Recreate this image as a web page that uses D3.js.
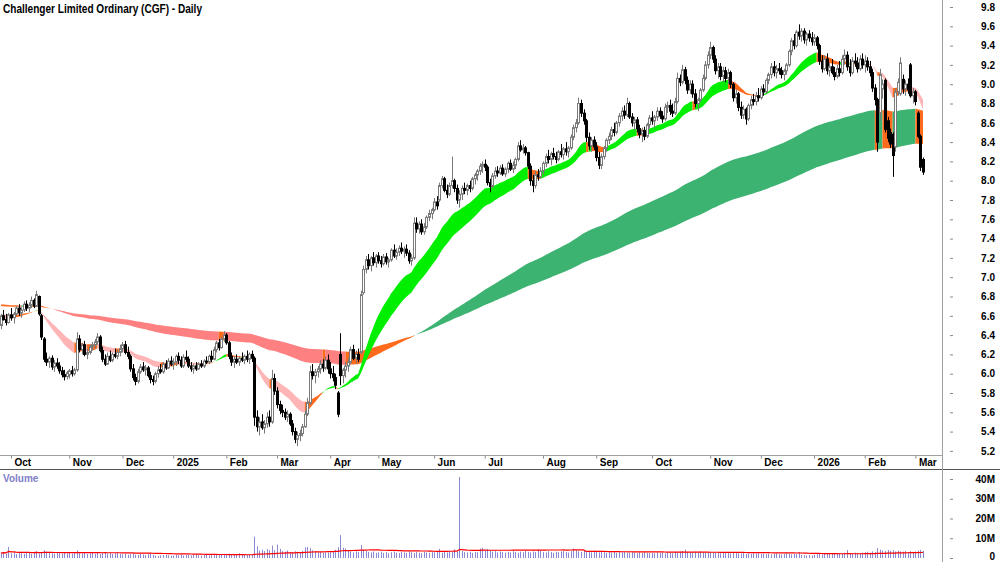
<!DOCTYPE html>
<html>
<head>
<meta charset="utf-8">
<script src="https://cdn.jsdelivr.net/npm/d3@7"></script>
<style>
  body { margin: 0; background: #fff; }
  svg { display: block; font-family: "Liberation Sans", Arial, sans-serif; }
</style>
</head>
<body>
<div id="chart"></div>
<script>
// ---- data ----
const title = "Challenger Limited Ordinary (CGF) - Daily";
const firstDay = "2024-09-25", lastDay = "2026-03-05";
const holidays = ["2024-12-25", "2024-12-26", "2025-01-01", "2025-01-27", "2025-04-18", "2025-04-21",
    "2025-04-25", "2025-06-09", "2025-12-25", "2025-12-26", "2026-01-01", "2026-01-26"];
const monthLabels = ["Oct", "Nov", "Dec", "2025", "Feb", "Mar", "Apr", "May", "Jun", "Jul", "Aug", "Sep",
    "Oct", "Nov", "Dec", "2026", "Feb", "Mar"];
const priceTicks = [5.2, 5.4, 5.6, 5.8, 6.0, 6.2, 6.4, 6.6, 6.8, 7.0, 7.2, 7.4, 7.6, 7.8, 8.0, 8.2, 8.4, 8.6,
    8.8, 9.0, 9.2, 9.4, 9.6, 9.8];
const volumeTicks = [0, 10, 20, 30, 40];   // millions

// daily candles: [open, high, low, close]
const sep24 = [[6.50,6.62,6.46,6.60],[6.60,6.66,6.55,6.56],[6.56,6.62,6.50,6.53],[6.53,6.63,6.52,6.61]];
const oct24 = [[6.61,6.68,6.55,6.58],[6.58,6.64,6.52,6.62],[6.62,6.70,6.60,6.68],[6.68,6.72,6.60,6.63],
    [6.63,6.69,6.58,6.66],[6.66,6.75,6.64,6.72],[6.72,6.76,6.65,6.68],[6.68,6.74,6.64,6.71],
    [6.71,6.80,6.68,6.76],[6.76,6.78,6.68,6.70],[6.70,6.86,6.69,6.82],[6.80,6.81,6.60,6.62],
    [6.60,6.62,6.35,6.38],[6.36,6.38,6.12,6.15],[6.15,6.22,6.08,6.12],[6.12,6.18,6.06,6.16],
    [6.16,6.19,6.04,6.07],[6.07,6.14,6.02,6.11],[6.11,6.16,6.05,6.08],[6.08,6.12,6.00,6.03],
    [6.03,6.07,5.96,5.99],[5.99,6.04,5.93,5.97],[5.97,6.03,5.94,6.01]];
const nov24 = [[5.99,6.05,5.95,6.03],[6.03,6.08,5.97,6.00],[6.00,6.06,5.98,6.04],[6.04,6.43,6.02,6.36],
    [6.36,6.40,6.22,6.25],[6.25,6.32,6.20,6.30],[6.30,6.34,6.18,6.20],[6.20,6.26,6.15,6.22],
    [6.22,6.30,6.20,6.28],[6.28,6.33,6.24,6.30],[6.30,6.36,6.26,6.33],[6.33,6.42,6.30,6.38],
    [6.38,6.40,6.22,6.24],[6.24,6.28,6.12,6.15],[6.15,6.20,6.08,6.10],[6.10,6.22,6.09,6.18],
    [6.18,6.24,6.12,6.14],[6.14,6.22,6.12,6.20],[6.20,6.26,6.16,6.18],[6.18,6.25,6.15,6.22],
    [6.22,6.30,6.18,6.26]];
const dec24 = [[6.26,6.33,6.22,6.30],[6.30,6.34,6.20,6.22],[6.22,6.28,6.15,6.18],[6.18,6.20,6.02,6.05],
    [6.05,6.10,5.93,5.96],[5.96,6.00,5.88,5.92],[5.92,6.05,5.90,6.02],[6.02,6.10,6.00,6.07],
    [6.07,6.12,6.02,6.04],[6.04,6.09,5.98,6.06],[6.06,6.08,5.96,5.98],[5.98,6.02,5.90,5.94],
    [5.94,5.98,5.88,5.92],[5.92,6.02,5.90,6.00],[6.00,6.08,5.96,6.04],[6.04,6.10,6.00,6.02],
    [6.02,6.12,6.00,6.10],[6.10,6.14,6.04,6.06],[6.06,6.16,6.05,6.13],[6.13,6.18,6.08,6.10]];
const jan25 = [[6.10,6.16,6.04,6.12],[6.12,6.20,6.08,6.18],[6.18,6.22,6.10,6.14],[6.14,6.18,6.06,6.08],
    [6.08,6.20,6.06,6.17],[6.17,6.24,6.12,6.15],[6.15,6.18,6.06,6.08],[6.08,6.12,6.02,6.05],
    [6.05,6.10,6.00,6.08],[6.08,6.12,6.03,6.05],[6.05,6.12,6.04,6.10],[6.10,6.14,6.06,6.08],
    [6.08,6.15,6.06,6.13],[6.13,6.18,6.10,6.12],[6.12,6.20,6.10,6.18],[6.18,6.24,6.12,6.15],
    [6.15,6.28,6.14,6.25],[6.25,6.34,6.22,6.32],[6.32,6.36,6.24,6.27],[6.27,6.38,6.26,6.36],
    [6.36,6.44,6.33,6.40]];
const feb25 = [[6.40,6.42,6.30,6.32],[6.32,6.34,6.15,6.18],[6.18,6.22,6.08,6.12],[6.12,6.18,6.06,6.15],
    [6.15,6.20,6.10,6.12],[6.12,6.18,6.08,6.16],[6.16,6.22,6.12,6.14],[6.14,6.20,6.10,6.18],
    [6.18,6.24,6.12,6.15],[6.15,6.22,6.10,6.20],[6.20,6.24,6.12,6.16],[6.16,6.18,5.46,5.55],
    [5.55,5.62,5.40,5.45],[5.45,5.55,5.36,5.50],[5.50,5.58,5.42,5.44],[5.44,5.52,5.38,5.48],
    [5.48,5.60,5.44,5.55],[5.55,5.62,5.45,5.50],[5.50,6.04,5.48,5.95],[5.95,6.00,5.78,5.82]];
const mar25 = [[5.82,5.86,5.64,5.68],[5.68,5.72,5.58,5.62],[5.62,5.68,5.55,5.60],[5.60,5.64,5.52,5.55],
    [5.55,5.62,5.50,5.58],[5.58,5.60,5.46,5.48],[5.48,5.52,5.36,5.40],[5.40,5.44,5.28,5.32],
    [5.32,5.40,5.25,5.36],[5.36,5.42,5.30,5.38],[5.38,5.48,5.35,5.45],[5.45,5.62,5.44,5.58],
    [5.58,5.75,5.56,5.70],[5.70,6.08,5.68,6.02],[6.02,6.10,5.94,5.98],[5.98,6.05,5.90,6.02],
    [6.02,6.08,5.96,6.05],[6.05,6.14,6.00,6.10],[6.10,6.15,6.02,6.06],[6.06,6.18,6.04,6.14],
    [6.14,6.20,6.00,6.05]];
const apr25 = [[6.05,6.12,5.95,6.00],[6.00,6.08,5.92,5.96],[5.96,6.00,5.84,5.88],[5.80,5.82,5.55,5.58],
    [6.20,6.42,5.88,5.98],[5.98,6.06,5.90,6.04],[6.04,6.12,5.96,6.08],[6.08,6.16,6.02,6.12],
    [6.12,6.28,6.10,6.25],[6.25,6.30,6.14,6.16],[6.16,6.24,6.10,6.20],[6.20,6.26,6.12,6.15],
    [6.22,6.86,6.20,6.82],[6.84,7.12,6.82,7.08],[7.08,7.22,7.04,7.18],[7.18,7.24,7.08,7.12],
    [7.12,7.22,7.06,7.20],[7.20,7.26,7.12,7.15],[7.15,7.24,7.10,7.22]];
const may25 = [[7.22,7.26,7.14,7.17],[7.17,7.22,7.10,7.14],[7.14,7.24,7.12,7.21],[7.21,7.25,7.13,7.16],
    [7.16,7.20,7.10,7.18],[7.18,7.30,7.16,7.28],[7.28,7.34,7.20,7.22],[7.22,7.30,7.18,7.26],
    [7.26,7.33,7.22,7.30],[7.30,7.36,7.24,7.27],[7.27,7.32,7.20,7.29],[7.29,7.34,7.22,7.25],
    [7.25,7.28,7.14,7.17],[7.17,7.24,7.12,7.20],[7.20,7.62,7.18,7.56],[7.56,7.62,7.46,7.50],
    [7.50,7.58,7.45,7.55],[7.55,7.60,7.44,7.47],[7.47,7.56,7.44,7.52],[7.52,7.64,7.50,7.62],
    [7.62,7.70,7.58,7.66],[7.66,7.72,7.60,7.70]];
const jun25 = [[7.70,7.82,7.68,7.78],[7.78,7.84,7.70,7.74],[7.80,7.98,7.78,7.95],[7.95,8.05,7.92,8.02],
    [8.02,8.04,7.88,7.90],[7.90,7.96,7.82,7.86],[7.86,7.98,7.84,7.95],[7.95,8.25,7.92,8.00],
    [8.00,8.02,7.88,7.92],[7.92,7.96,7.76,7.80],[7.80,7.90,7.72,7.86],[7.86,7.95,7.80,7.92],
    [7.92,7.98,7.86,7.90],[7.90,7.97,7.85,7.95],[7.95,8.00,7.88,7.92],[7.92,8.04,7.90,8.02],
    [8.02,8.08,7.96,8.06],[8.06,8.12,8.00,8.10],[8.10,8.18,8.06,8.15],[8.15,8.20,8.08,8.17]];
const jul25 = [[8.17,8.22,8.10,8.14],[8.14,8.16,7.95,7.98],[7.98,8.02,7.88,7.94],[7.94,8.08,7.92,8.05],
    [8.05,8.14,8.02,8.10],[8.10,8.15,8.04,8.08],[8.08,8.16,8.06,8.13],[8.13,8.17,8.05,8.07],
    [8.07,8.14,8.04,8.12],[8.12,8.20,8.08,8.18],[8.18,8.22,8.10,8.12],[8.12,8.20,8.08,8.16],
    [8.16,8.24,8.12,8.22],[8.22,8.40,8.20,8.36],[8.36,8.42,8.30,8.32],[8.32,8.38,8.28,8.34],
    [8.34,8.36,8.26,8.29],[8.29,8.30,8.12,8.15],[8.15,8.18,7.95,8.00],[8.00,8.06,7.88,7.95],
    [7.95,8.10,7.92,8.06],[8.06,8.12,8.00,8.04],[8.04,8.14,8.02,8.10]];
const aug25 = [[8.10,8.20,8.06,8.18],[8.18,8.28,8.14,8.25],[8.25,8.32,8.18,8.22],[8.22,8.30,8.16,8.28],
    [8.28,8.34,8.22,8.25],[8.25,8.30,8.18,8.22],[8.22,8.32,8.20,8.30],[8.30,8.38,8.24,8.27],
    [8.27,8.35,8.22,8.33],[8.33,8.40,8.26,8.30],[8.30,8.36,8.24,8.34],[8.34,8.48,8.32,8.45],
    [8.45,8.58,8.42,8.55],[8.55,8.64,8.50,8.60],[8.60,8.86,8.58,8.80],[8.80,8.84,8.66,8.70],
    [8.70,8.74,8.58,8.62],[8.62,8.64,8.40,8.45],[8.45,8.50,8.32,8.36],[8.36,8.45,8.30,8.42],
    [8.42,8.46,8.32,8.35]];
const sep25 = [[8.35,8.40,8.20,8.24],[8.24,8.30,8.12,8.16],[8.16,8.28,8.12,8.25],[8.25,8.36,8.22,8.34],
    [8.34,8.44,8.30,8.42],[8.42,8.50,8.38,8.46],[8.46,8.56,8.42,8.53],[8.53,8.60,8.46,8.50],
    [8.50,8.62,8.48,8.60],[8.60,8.70,8.56,8.67],[8.67,8.76,8.62,8.72],[8.72,8.78,8.64,8.68],
    [8.68,8.86,8.66,8.80],[8.80,8.82,8.64,8.66],[8.66,8.70,8.56,8.60],[8.60,8.66,8.52,8.63],
    [8.63,8.66,8.50,8.54],[8.54,8.58,8.44,8.48],[8.48,8.55,8.40,8.52],[8.52,8.56,8.42,8.46],
    [8.46,8.60,8.44,8.58],[8.58,8.68,8.54,8.65]];
const oct25 = [[8.65,8.72,8.58,8.62],[8.62,8.68,8.55,8.66],[8.66,8.76,8.62,8.72],[8.72,8.76,8.64,8.67],
    [8.67,8.72,8.60,8.64],[8.64,8.80,8.62,8.76],[8.76,8.82,8.70,8.78],[8.78,8.84,8.68,8.72],
    [8.72,8.80,8.66,8.70],[8.70,8.86,8.68,8.82],[8.82,9.12,8.80,9.06],[9.06,9.10,8.98,9.02],
    [9.02,9.20,9.00,9.15],[9.15,9.18,9.00,9.04],[9.04,9.08,8.90,8.94],[8.94,9.04,8.90,9.00],
    [9.00,9.04,8.86,8.90],[8.90,8.95,8.76,8.80],[8.80,8.86,8.72,8.84],[8.84,8.96,8.82,8.94],
    [8.94,9.10,8.92,9.06],[9.06,9.24,9.04,9.20],[9.20,9.34,9.16,9.30]];
const nov25 = [[9.30,9.44,9.26,9.38],[9.38,9.40,9.22,9.26],[9.26,9.30,9.10,9.14],[9.14,9.22,9.06,9.18],
    [9.18,9.22,9.04,9.08],[9.08,9.18,9.02,9.14],[9.14,9.18,9.02,9.06],[9.06,9.16,9.00,9.12],
    [9.12,9.14,8.96,9.00],[9.00,9.02,8.82,8.86],[8.86,8.94,8.80,8.90],[8.90,8.92,8.72,8.76],
    [8.76,8.82,8.64,8.68],[8.68,8.78,8.64,8.74],[8.74,8.76,8.58,8.64],[8.64,8.80,8.62,8.78],
    [8.78,8.88,8.74,8.84],[8.84,8.90,8.78,8.82],[8.82,8.92,8.78,8.88],[8.88,8.96,8.82,8.86]];
const dec25 = [[8.86,8.98,8.84,8.95],[8.95,9.00,8.88,8.92],[8.92,9.06,8.90,9.04],[9.04,9.12,9.00,9.10],
    [9.10,9.22,9.06,9.18],[9.18,9.24,9.08,9.12],[9.12,9.20,9.06,9.16],[9.16,9.22,9.10,9.14],
    [9.14,9.18,9.06,9.10],[9.10,9.16,9.04,9.14],[9.14,9.22,9.10,9.20],[9.20,9.36,9.18,9.34],
    [9.34,9.48,9.30,9.45],[9.45,9.52,9.36,9.40],[9.40,9.56,9.38,9.54],[9.54,9.62,9.46,9.50],
    [9.50,9.58,9.44,9.55],[9.55,9.58,9.42,9.46],[9.46,9.54,9.40,9.52],[9.52,9.56,9.44,9.48],
    [9.48,9.54,9.40,9.44]];
const jan26 = [[9.44,9.52,9.40,9.48],[9.48,9.50,9.36,9.40],[9.40,9.42,9.20,9.24],[9.24,9.30,9.12,9.16],
    [9.16,9.30,9.14,9.26],[9.26,9.32,9.10,9.14],[9.14,9.22,9.08,9.18],[9.18,9.26,9.10,9.12],
    [9.12,9.18,9.04,9.08],[9.08,9.20,9.06,9.16],[9.16,9.24,9.08,9.12],[9.12,9.30,9.10,9.26],
    [9.26,9.36,9.20,9.30],[9.30,9.34,9.14,9.18],[9.18,9.26,9.08,9.12],[9.12,9.28,9.10,9.24],
    [9.24,9.32,9.18,9.22],[9.22,9.28,9.12,9.16],[9.16,9.30,9.14,9.26],[9.26,9.32,9.16,9.20]];
const feb26 = [[9.20,9.30,9.12,9.24],[9.24,9.28,9.14,9.18],[9.18,9.24,9.08,9.12],[9.12,9.16,8.92,8.96],
    [8.96,9.00,8.78,8.84],[8.84,8.86,8.30,8.40],[8.70,9.16,8.62,9.10],[8.95,9.05,8.85,9.00],
    [9.04,9.06,8.50,8.53],[8.62,8.66,8.40,8.44],[8.50,8.54,8.34,8.38],[8.48,8.50,8.04,8.26],
    [8.35,8.96,8.30,8.92],[8.92,9.06,8.88,9.02],[8.90,9.28,8.88,9.22],[9.05,9.10,8.90,8.95],
    [8.95,9.04,8.88,9.00],[9.00,9.06,8.90,8.94],[9.20,9.22,8.86,8.88],[8.88,8.96,8.80,8.92]];
const mar26 = [[8.92,8.94,8.78,8.82],[8.70,8.72,8.44,8.46],[8.46,8.48,8.10,8.14],[8.22,8.24,8.06,8.09]];

// daily volume, millions
const volSep24 = [2.5, 3.0, 2.2, 5.6];
const volOct24 = [2.4,2.8,2.0,2.6,3.1,2.2,2.5,2.9,2.1,2.7,3.4,2.3,2.6,3.9,3.2,2.8,2.4,2.2,2.9,2.5,2.1,2.6,2.3];
const volNov24 = [2.7,2.2,2.5,3.8,2.6,2.3,2.9,2.1,2.4,2.8,2.2,2.6,2.0,2.5,3.0,2.3,2.7,2.1,2.4,2.9,2.2];
const volDec24 = [1.8,2.2,1.6,1.9,2.4,1.7,1.5,2.0,1.8,1.4,1.9,2.3,1.6,1.2,1.0,1.3,1.5,1.7,1.4,1.2];
const volJan25 = [1.3,1.6,1.4,1.8,1.2,1.5,1.7,1.3,1.6,1.9,1.4,1.2,1.5,1.8,1.3,1.6,1.4,1.7,1.5,1.9,2.1];
const volFeb25 = [1.8,2.2,1.6,1.9,1.5,2.4,1.7,2.0,1.6,1.8,1.5,10.8,5.9,3.8,4.2,3.5,4.5,3.9,6.3,4.0];
const volMar25 = [6.8,4.6,3.5,3.2,3.8,3.0,2.8,3.4,3.1,2.9,3.6,5.4,5.6,5.0,3.9,3.3,2.8,3.1,2.6,3.0,2.7];
const volApr25 = [2.9,3.2,4.1,5.5,11.6,5.2,4.8,3.6,3.2,2.9,3.4,3.0,6.6,4.2,3.5,3.1,2.8,3.3,2.6];
const volMay25 = [2.8,3.2,2.6,3.0,2.4,2.9,3.3,2.7,2.5,3.1,2.8,2.6,3.4,2.9,2.5,3.0,2.7,2.4,3.2,2.8,2.6,3.0];
const volJun25 = [2.9,3.3,4.6,2.7,3.1,2.8,3.6,3.0,4.4,3.2,41.0,3.5,3.0,2.8,3.2,2.6,3.1,2.9,4.8,5.2];
const volJul25 = [4.1,4.6,3.8,3.2,3.5,2.9,3.3,3.0,2.7,3.1,2.8,3.4,3.0,2.6,3.2,2.9,3.5,3.1,2.8,3.3,3.0,4.4,3.6];
const volAug25 = [3.1,2.8,3.4,3.0,2.6,3.2,2.9,3.3,3.6,3.0,2.8,3.5,4.7,3.9,3.4,3.1,3.6,3.0,3.3,2.9,3.8];
const volSep25 = [3.2,2.9,3.4,3.0,2.7,3.1,2.8,3.3,2.6,3.0,2.9,3.2,2.7,2.5,3.0,2.8,2.4,2.9,2.6,3.1,2.7,2.5];
const volOct25 = [2.6,2.4,2.8,2.5,2.9,2.3,2.7,2.6,2.4,3.0,2.8,3.3,3.6,4.2,3.1,2.9,2.7,3.2,2.8,3.4,3.0,2.6,2.9];
const volNov25 = [3.1,2.8,2.6,3.0,2.4,2.7,2.5,2.9,2.3,2.6,2.8,2.4,2.2,2.6,2.0,2.3,2.1,2.5,2.2,2.4];
const volDec25 = [2.0,2.3,1.9,2.2,1.8,2.1,2.4,1.9,1.7,2.0,2.6,2.2,1.8,2.1,1.9,2.8,1.6,1.4,1.2,1.5,1.3];
const volJan26 = [1.6,1.9,2.2,1.8,2.1,2.4,1.9,2.3,2.0,2.2,2.5,2.1,2.6,4.0,2.4,2.2,2.7,2.3,2.5,2.8];
const volFeb26 = [2.9,3.2,2.7,3.4,3.1,5.0,4.2,3.8,3.5,4.0,3.6,3.9,3.3,3.7,3.4,3.2,3.6,3.0,3.4,3.1];
const volMar26 = [3.3,3.8,4.1,3.6];

const shortPeriods = [21, 34], shortSeed = [6.57, 6.62];
const longPeriods = [144, 233], longSeed = [6.72, 6.70];
const volAvgPeriod = 50;
const shortColors = { bull: "#00ee00", bear: "#ffb5b5", mixed: "#ff6a1c" };
const longColors = { bull: "#3cb371", bear: "#ff8080", mixed: "#ff6a1c" };

// ---- build ----
const candles = [].concat(sep24, oct24, nov24, dec24, jan25, feb25, mar25, apr25, may25, jun25, jul25,
    aug25, sep25, oct25, nov25, dec25, jan26, feb26, mar26);
const volumes = [].concat(volSep24, volOct24, volNov24, volDec24, volJan25, volFeb25, volMar25, volApr25,
    volMay25, volJun25, volJul25, volAug25, volSep25, volOct25, volNov25, volDec25, volJan26, volFeb26, volMar26);

const fmtDay = d3.timeFormat("%Y-%m-%d");
const parseDay = d3.timeParse("%Y-%m-%d");
const dates = d3.timeDay.range(parseDay(firstDay), d3.timeDay.offset(parseDay(lastDay), 1))
    .filter(d => d.getDay() !== 0 && d.getDay() !== 6 && !holidays.includes(fmtDay(d)));
const n = Math.min(candles.length, volumes.length, dates.length);

// first trading day of each month -> tick
const monthStarts = [];
dates.slice(0, n).forEach((d, i) => {
    if (i > 0 && d.getMonth() !== dates[i - 1].getMonth()) monthStarts.push(i);
});

const W = 1000, H = 562;
const svg = d3.select("#chart").append("svg").attr("width", W).attr("height", H);

const x = d3.scaleLinear().domain([0, 364]).range([0.9, 923]);
const y = d3.scaleLinear().domain([5.2, 9.8]).range([450.9, 7]);
const yv = d3.scaleLinear().domain([0, 40]).range([558, 479]);
const px = i => Math.round(x(i));

// ---- moving-average ribbons ----
function ema(vals, period, seed) {
    const k = 2 / (period + 1);
    let e = seed;
    return vals.map(v => (e = e + k * (v - e)));
}
// bull: fast rising and above slow, bear: fast falling and below slow, else mixed
function ribbonStates(fast, slow, seedFast) {
    return fast.map((f, i) => {
        const up = f > (i ? fast[i - 1] : seedFast);
        if (up && f > slow[i]) return "bull";
        if (!up && f < slow[i]) return "bear";
        return "mixed";
    });
}
function drawRibbon(g, fast, slow, states, colors) {
    const area = d3.area().x(i => x(i)).y0(i => y(slow[i])).y1(i => y(fast[i]));
    let start = 0;
    for (let i = 1; i <= n; i++) {
        if (i === n || states[i] !== states[start]) {
            g.append("path")
                .attr("d", area(d3.range(Math.max(start - 1, 0), i)))
                .attr("fill", colors[states[start]]);
            start = i;
        }
    }
}

const closes = candles.slice(0, n).map(d => d[3]);
const sFast = ema(closes, shortPeriods[0], shortSeed[0]);
const sSlow = ema(closes, shortPeriods[1], shortSeed[1]);
const lFast = ema(closes, longPeriods[0], longSeed[0]);
const lSlow = ema(closes, longPeriods[1], longSeed[1]);

const ribbons = svg.append("g");
drawRibbon(ribbons, lFast, lSlow, ribbonStates(lFast, lSlow, longSeed[0]), longColors);
drawRibbon(ribbons, sFast, sSlow, ribbonStates(sFast, sSlow, shortSeed[0]), shortColors);

// ---- candles ----
const bars = candles.slice(0, n).map((d, i) => ({ i, o: d[0], h: d[1], l: d[2], c: d[3] }));
const cg = svg.append("g");
cg.selectAll("line.wick").data(bars).join("line")
    .attr("class", "wick")
    .attr("x1", d => px(d.i) + 0.5).attr("x2", d => px(d.i) + 0.5)
    .attr("y1", d => y(d.h)).attr("y2", d => y(d.l))
    .attr("stroke", d => d.c >= d.o ? "#7a7a7a" : "#000")
    .attr("stroke-width", 1);
cg.selectAll("rect.body").data(bars).join("rect")
    .attr("class", "body")
    .attr("x", d => px(d.i) - 0.5)
    .attr("width", 2)
    .attr("y", d => y(Math.max(d.o, d.c)))
    .attr("height", d => Math.max(Math.abs(y(d.o) - y(d.c)), 1))
    .attr("fill", d => d.c >= d.o ? "#fff" : "#000")
    .attr("stroke", d => d.c >= d.o ? "#7a7a7a" : "#000")
    .attr("stroke-width", 1);

// ---- frame ----
svg.append("line").attr("x1", 0).attr("x2", 942.5).attr("y1", 455.5).attr("y2", 455.5)
    .attr("stroke", "#a0a0a0");
svg.append("line").attr("x1", 0).attr("x2", W).attr("y1", 469.5).attr("y2", 469.5)
    .attr("stroke", "#555");
svg.append("line").attr("x1", 942.5).attr("x2", 942.5).attr("y1", 0).attr("y2", H)
    .attr("stroke", "#a0a0a0");

svg.append("text").attr("x", 3).attr("y", 13)
    .attr("font-size", 12.5).attr("font-weight", "bold")
    .attr("textLength", 199).attr("lengthAdjust", "spacingAndGlyphs")
    .text(title);

// ---- axes ----
const priceAxis = svg.append("g").attr("transform", "translate(950,0)")
    .call(d3.axisRight(y).tickValues(priceTicks).tickSize(3).tickFormat(d3.format(".1f")));
const volAxis = svg.append("g").attr("transform", "translate(950,0)")
    .call(d3.axisRight(yv).tickValues(volumeTicks).tickSize(3).tickFormat(d => d ? d + "M" : "0"));
[priceAxis, volAxis].forEach(g => {
    g.select(".domain").remove();
    g.selectAll(".tick line").attr("stroke", "#888");
    g.selectAll(".tick text").attr("x", 45).attr("text-anchor", "end")
        .attr("font-size", 10).attr("font-weight", "bold").attr("fill", "#000");
});
volAxis.selectAll(".tick text").filter(d => d === 0).attr("dy", "0.1em");

const dateAxis = svg.append("g").attr("transform", "translate(0,455.5)")
    .call(d3.axisBottom(x).tickValues(monthStarts).tickSize(3)
        .tickFormat((d, k) => monthLabels[k] || ""));
dateAxis.select(".domain").remove();
dateAxis.selectAll(".tick line").attr("stroke", "#888");
dateAxis.selectAll(".tick text").attr("text-anchor", "start").attr("x", 3).attr("y", 3).attr("dy", "0.71em")
    .attr("font-size", 10).attr("font-weight", "bold").attr("fill", "#000");

// ---- volume ----
const vg = svg.append("g");
vg.selectAll("line.vol").data(volumes.slice(0, n)).join("line")
    .attr("class", "vol")
    .attr("x1", (d, i) => px(i) + 0.5).attr("x2", (d, i) => px(i) + 0.5)
    .attr("y1", yv(0)).attr("y2", d => yv(d))
    .attr("stroke", "#8a8ad2").attr("stroke-width", 1);

const volAvg = volumes.slice(0, n)
    .map((v, i) => d3.mean(volumes.slice(Math.max(0, i - volAvgPeriod + 1), i + 1)));
vg.append("path")
    .attr("d", d3.line().x((d, i) => x(i)).y(d => yv(d))(volAvg))
    .attr("fill", "none").attr("stroke", "#ff0000").attr("stroke-width", 1.2);

svg.append("text").attr("x", 3).attr("y", 482)
    .attr("font-size", 10).attr("font-weight", "bold").attr("fill", "#8080c8")
    .text("Volume");
</script>
</body>
</html>
